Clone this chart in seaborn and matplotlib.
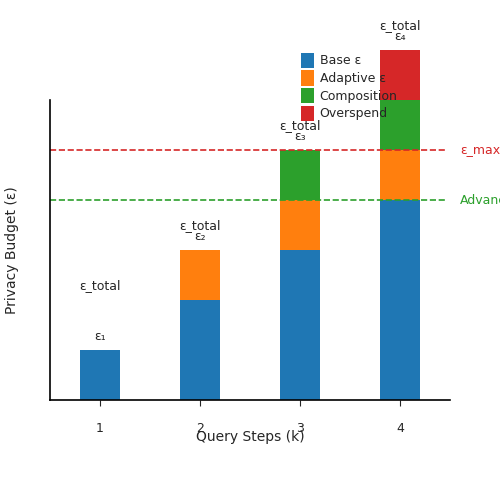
import matplotlib
matplotlib.use("Agg")
import matplotlib.pyplot as plt
import seaborn as sns
import numpy as np

sns.set_style("white")
plt.rcParams['font.family'] = ['DejaVu Sans']

steps = [1, 2, 3, 4]
base = [1, 2, 3, 4]
adaptive = [0, 1, 1, 1]
composition = [0, 0, 1, 1]
overspend = [0, 0, 0, 1]
series = [("Base ε", base, "#1f77b4"), ("Adaptive ε", adaptive, "#ff7f0e"),
          ("Composition", composition, "#2ca02c"), ("Overspend", overspend, "#d62728")]
eps_max = 5
advanced = 4
sub_labels = ["ε₁", "ε₂", "ε₃", "ε₄"]

fig = plt.figure(figsize=(5, 5), dpi=100)
ax = fig.add_axes([0.1, 0.2, 0.8, 0.6])
bottom = np.zeros(4)
for name, vals, col in series:
    ax.bar(steps, vals, width=0.4, bottom=bottom, color=col, label=name,
           clip_on=False, linewidth=0)
    bottom += np.array(vals)

ax.axhline(eps_max, color="#d62728", ls="--", lw=1.2, xmax=0.99)
ax.axhline(advanced, color="#2ca02c", ls="--", lw=1.2, xmax=0.99)
ax.text(4.6, eps_max, "ε_max", color="#d62728", va="center", fontsize=9, clip_on=False)
ax.text(4.6, advanced, "Advanced", color="#2ca02c", va="center", fontsize=9, clip_on=False)

for i, s in enumerate(steps):
    t = bottom[i]
    ax.text(s, t + 0.28, sub_labels[i], ha="center", va="center", fontsize=9)
    if i == 0:
        ax.text(s, t + 1.28, "ε_total", ha="center", va="center", fontsize=9)
    else:
        ax.text(s, t + 0.48, "ε_total", ha="center", va="center", fontsize=9)

ax.set_xlim(0.5, 4.5)
ax.set_ylim(0, 6)
ax.set_xticks(steps)
ax.set_yticks([])
ax.tick_params(axis="x", bottom=True, length=4, pad=12, labelsize=9)
for sp in ["top", "right"]:
    ax.spines[sp].set_visible(False)
for sp in ["left", "bottom"]:
    ax.spines[sp].set_color("black")
    ax.spines[sp].set_linewidth(1.2)
ax.set_xlabel("Query Steps (k)", fontsize=10, labelpad=-4)
ax.set_ylabel("Privacy Budget (ε)", fontsize=10, labelpad=22)
ax.legend(loc="upper left", bbox_to_anchor=(0.615, 1.175), frameon=False, fontsize=9,
          handlelength=1.0, handleheight=1.5, handletextpad=0.5, labelspacing=0.2,
          borderaxespad=0)
fig.savefig("out.png", dpi=100)
